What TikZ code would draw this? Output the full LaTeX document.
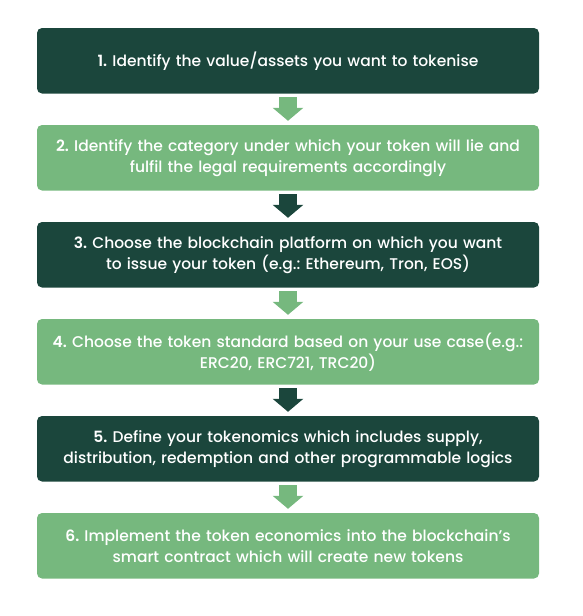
\documentclass[tikz,border=0pt]{standalone}
\usepackage{fontspec}
\setmainfont{Poppins}[UprightFont=* Medium, BoldFont=* SemiBold, WordSpace=0.8]
\frenchspacing
\usetikzlibrary{arrows.meta}
\definecolor{tokendark}{RGB}{27,70,60}
\definecolor{tokenlight}{RGB}{118,184,126}
\tikzset{
	stepbox/.style={rectangle, rounded corners=5pt, minimum width=502pt, minimum height=65.5pt, text width=490pt, inner sep=0pt, align=center, text=white, font=\fontsize{15.5}{21}\selectfont},
	darkstep/.style={stepbox, fill=tokendark},
	lightstep/.style={stepbox, fill=tokenlight},
	blockarrow/.style={line width=18pt, -{Triangle[width=30pt,length=13pt]}, shorten <=3.5pt, shorten >=4pt}
}
\begin{document}
\begin{tikzpicture}[x=1pt, y=-1pt]
	\useasboundingbox (0,0) rectangle (582,616);
	
	\node (1) at (288,60.75) [darkstep] {\textbf{1.} Identify the value/assets you want to tokenise};
	\node (2) at (288,157.75) [lightstep] {\textbf{2.} Identify the category under which your token will lie and\\ fulfil the legal requirements accordingly};
	\node (3) at (288,254.75) [darkstep] {\textbf{3.} Choose the blockchain platform on which you want\\ to issue your token (e.g.: Ethereum, Tron, EOS)};
	\node (4) at (288,351.75) [lightstep] {\textbf{4.} Choose the token standard based on your use case(e.g.:\\ ERC20, ERC721, TRC20)};
	\node (5) at (288,448.75) [darkstep] {\textbf{5.} Define your tokenomics which includes supply,\\ distribution, redemption and other programmable logics};
	\node (6) at (288,545.75) [lightstep] {\textbf{6.} Implement the token economics into the blockchain’s\\ smart contract which will create new tokens};
	
	\draw [blockarrow, tokenlight] (1) -- (2);
	\draw [blockarrow, tokendark] (2) -- (3);
	\draw [blockarrow, tokenlight] (3) -- (4);
	\draw [blockarrow, tokendark] (4) -- (5);
	\draw [blockarrow, tokenlight] (5) -- (6);
	
\end{tikzpicture}
\end{document}
